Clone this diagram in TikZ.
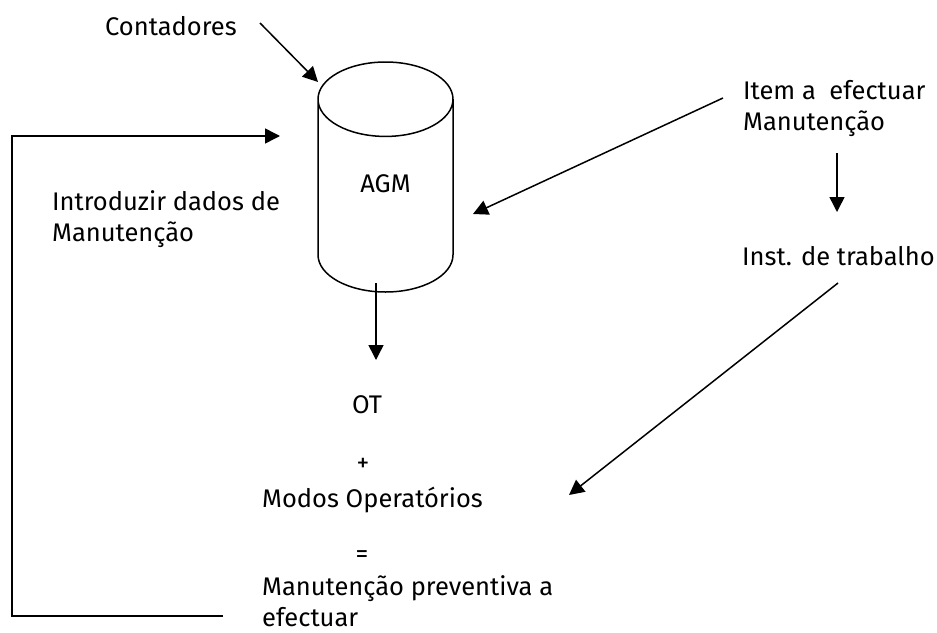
\documentclass[tikz,border=0pt]{standalone}
\usepackage{fontspec}
\setmainfont{Fira Sans}
\usetikzlibrary{shapes.geometric, arrows.meta, positioning}

\begin{document}
\begin{tikzpicture}[
  x=1pt, y=-1pt,
  lbl/.style={inner sep=0pt, anchor=base west, align=left, font=\fontsize{25.5}{31}\selectfont},
  sym/.style={inner sep=0pt, font=\fontsize{25.5}{31}\selectfont},
  db/.style={cylinder, shape border rotate=90, draw, line width=1.5pt, aspect=1.48, minimum width=135pt, minimum height=230pt, inner sep=0pt, font=\fontsize{25.5}{31}\selectfont},
  arr/.style={-{Triangle[length=15pt, width=15pt]}, line width=1.5pt},
]
\useasboundingbox (0,0) rectangle (937,632);

\node[db, anchor=shape center] (agm) at (385.5,177) {\raisebox{12pt}[\height][\depth]{AGM}};
\node[lbl] (cont)  at (105,35)  {Contadores};
\node[lbl] (item)  at (743,130) {Item a~ efectuar\\Manutenção};
\node[lbl] (intro) at (52,241)  {Introduzir dados de\\Manutenção};
\node[lbl] (inst)  at (742,265) {Inst. de trabalho};
\node[lbl] (ot)    at (352,413) {OT};
\node[sym] (plus)  at (363,465) {+};
\node[lbl] (modos) at (262,507) {Modos Operatórios};
\node[sym] (eq)    at (362,557) {=};
\node[lbl] (prev)  at (262,626) {Manutenção preventiva a\\efectuar};

% connector ends
\coordinate (contout) at (260,23);
\coordinate (agmtop)  at (318,82);
\coordinate (itemout) at (723,98);
\coordinate (agmin)   at (473,214);
\coordinate (itemdn)  at (837,153);
\coordinate (instin)  at (837,212);
\coordinate (instout) at (838,283);
\coordinate (modosin) at (569,495);
\coordinate (agmout)  at (376,283);
\coordinate (otin)    at (376,360);
\coordinate (fbstart) at (223,616);
\coordinate (fbend)   at (280,136);

\draw[arr] (contout) -- (agmtop);
\draw[arr] (itemout) -- (agmin);
\draw[arr] (itemdn)  -- (instin);
\draw[arr] (instout) -- (modosin);
\draw[arr] (agmout)  -- (otin);
\draw[arr] (fbstart) -- (12,616) -- (12,136) -- (fbend);
\end{tikzpicture}
\end{document}
